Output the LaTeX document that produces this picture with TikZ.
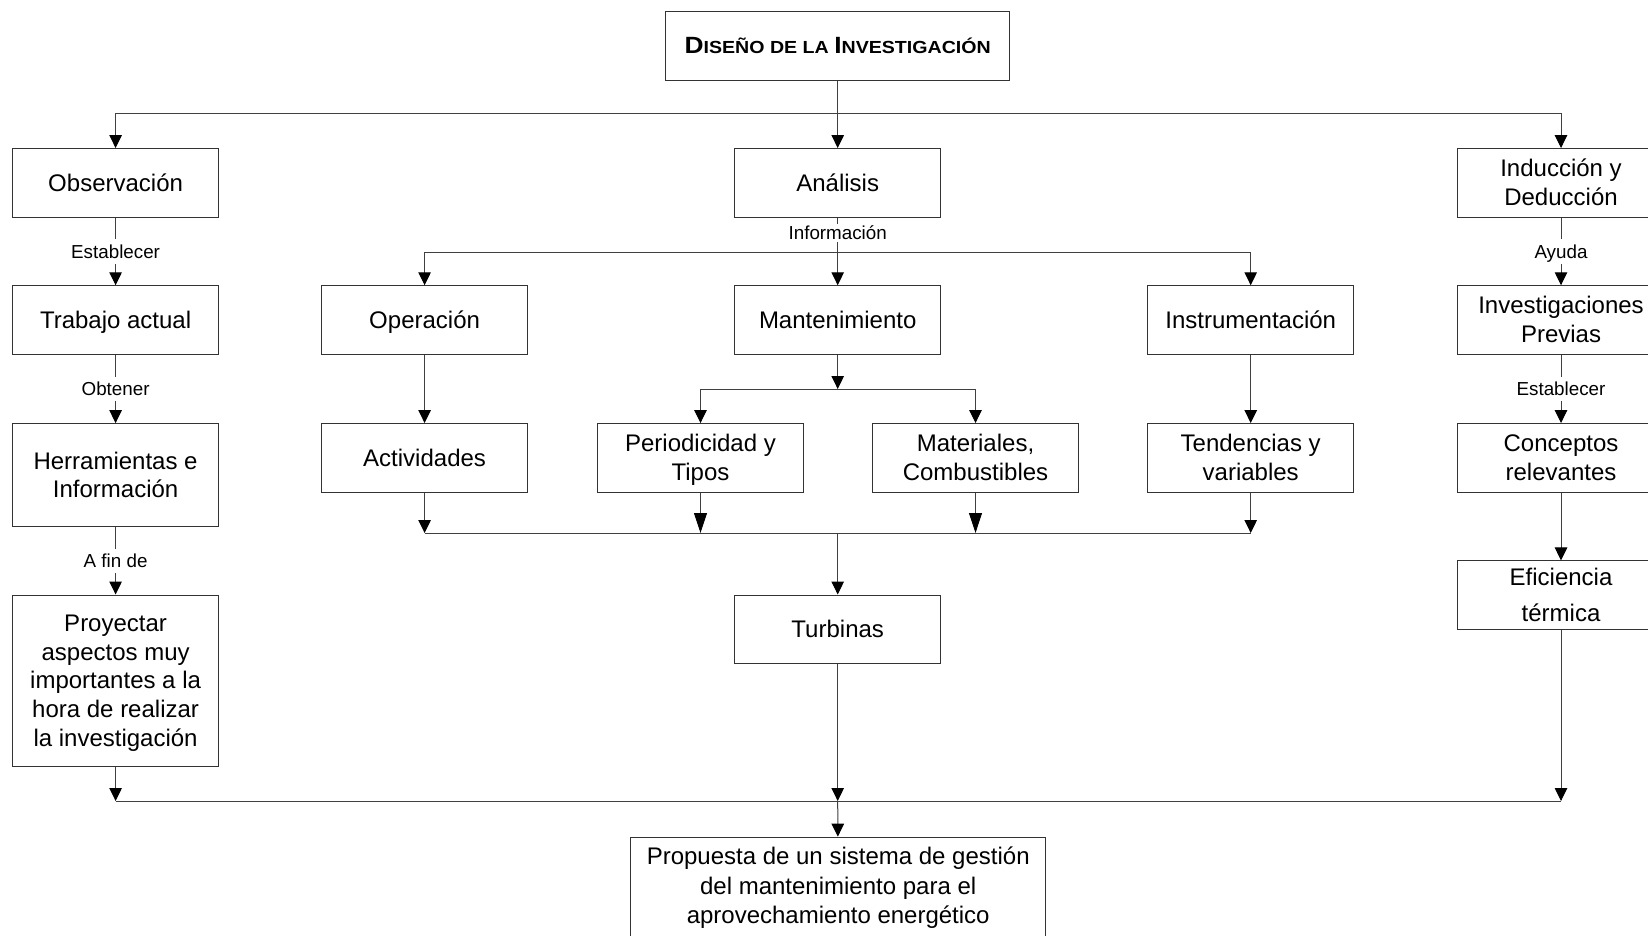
\documentclass[tikz,border=0pt]{standalone}
\usepackage{fontspec}
\usepackage{graphicx}
\setmainfont{Liberation Sans}
\usetikzlibrary{arrows.meta}
\newcommand\fs{\rule[-0.212em]{0pt}{1.117em}}
\begin{document}
\begin{tikzpicture}[x=1pt,y=-1pt,
  box/.style={draw=black!80, line width=1pt, minimum width=206pt, minimum height=68.5pt, inner sep=0pt, align=center, font=\fontsize{24}{28.8}\selectfont},
  lbl/.style={fill=white, inner xsep=1pt, inner ysep=5.5pt, text height=13.6pt, text depth=0pt, font=\fontsize{18.8}{22}\selectfont},
  con/.style={draw=black!75, line width=1pt},
  arr/.style={con, -{Triangle[width=12.5pt,length=13pt,color=black,fill=black]}},
  barr/.style={con, -{Triangle[width=13pt,length=20pt,color=black,fill=black]}},
]
\useasboundingbox (0,0) rectangle (1648,936);
\fill[white] (0,0) rectangle (1648,936);

% nodes
\node[box, minimum width=344.5pt] (top) at (837.7,45.8)
  {\fontsize{23.5}{28}\selectfont\bfseries\fs\scalebox{1.12}[1]{D{\fontsize{17.5}{20}\selectfont ISEÑO DE LA }I{\fontsize{17.5}{20}\selectfont NVESTIGACIÓN}}};

\node[box] (obs) at (115.6,182.8) {\fs Observación};
\node[box] (ana) at (837.7,182.8) {\fs Análisis};
\node[box, minimum width=208pt] (ind) at (1561,182.8) {\fs Inducción y\\\fs Deducción};

\node[box] (trab) at (115.6,320) {\fs Trabajo actual};
\node[box] (oper) at (424.6,320) {\fs Operación};
\node[box] (mant) at (837.7,320) {\fs Mantenimiento};
\node[box] (inst) at (1250.7,320) {\fs Instrumentación};
\node[box, minimum width=208pt] (inv) at (1561,320) {\fs Investigaciones\\\fs Previas};

\node[box, minimum height=103pt] (herr) at (115.6,475.1) {\fs Herramientas e\\\fs Información};
\node[box] (act) at (424.6,457.8) {\fs Actividades};
\node[box] (per) at (700.5,457.8) {\fs Periodicidad y\\\fs Tipos};
\node[box] (mat) at (975.5,457.8) {\fs Materiales,\\\fs Combustibles};
\node[box] (tend) at (1250.7,457.8) {\fs Tendencias y\\\fs variables};
\node[box, minimum width=208pt] (conc) at (1561,457.8) {\fs Conceptos\\\fs relevantes};

\node[box, minimum height=171pt] (proy) at (115.6,680.5)
  {\fs Proyectar\\\fs aspectos muy\\\fs importantes a la\\\fs hora de realizar\\\fs la investigación};
\node[box, minimum height=68pt] (turb) at (837.7,629) {\fs Turbinas};
\node[box, minimum width=208pt, font=\fontsize{24}{36}\selectfont] (efi) at (1561,595.2) {\fs Eficiencia\\\fs térmica};

\node[box, anchor=north, minimum width=415pt, minimum height=0pt, inner ysep=5.7pt, font=\fontsize{24}{29.5}\selectfont] (prop) at (838.2,836.6)
  {\fs Propuesta de un sistema de gestión\\\fs del mantenimiento para el\\\fs aprovechamiento energético\rule[-40pt]{0pt}{0pt}};

% top distribution
\coordinate (j1) at (837.7,113.5);
\draw[arr] (top) -- (ana);
\draw[con] (j1 -| obs) -- (j1 -| ind);
\draw[arr] (j1 -| obs) -- (obs);
\draw[arr] (j1 -| ind) -- (ind);

% left column
\draw[arr] (obs) -- node[lbl]{Establecer} (trab);
\draw[arr] (trab) -- node[lbl]{Obtener} (herr);
\draw[arr] (herr) -- node[lbl]{A fin de} (proy);

% right column
\draw[arr] (ind) -- node[lbl]{Ayuda} (inv);
\draw[arr] (inv) -- node[lbl]{Establecer} (conc);
\draw[arr] (conc) -- (efi);

% center
\draw[arr] (ana) -- node[lbl, pos=0.225, inner ysep=2.3pt]{Información} (mant);
\coordinate (j2) at (837.7,252);
\draw[con] (j2 -| oper) -- (j2 -| inst);
\draw[arr] (j2 -| oper) -- (oper);
\draw[arr] (j2 -| inst) -- (inst);
\draw[arr] (oper) -- (act);
\draw[arr] (inst) -- (tend);

\coordinate (j3) at (837.7,389);
\draw[arr] (mant) -- (j3);
\draw[con] (j3 -| per) -- (j3 -| mat);
\draw[arr] (j3 -| per) -- (per);
\draw[arr] (j3 -| mat) -- (mat);

\coordinate (j4) at (837.7,533);
\draw[con] (act |- j4) -- (tend |- j4);
\draw[arr] (act) -- (act |- j4);
\draw[barr] (per) -- (per |- j4);
\draw[barr] (mat) -- (mat |- j4);
\draw[arr] (tend) -- (tend |- j4);
\draw[arr] (j4) -- (turb);

% bottom merge
\coordinate (j5) at (837.7,801);
\draw[con] (proy |- j5) -- (efi |- j5);
\draw[arr] (proy) -- (proy |- j5);
\draw[arr] (turb) -- (j5);
\draw[arr] (efi) -- (efi |- j5);
\draw[arr] (j5) -- (prop);
\end{tikzpicture}
\end{document}
